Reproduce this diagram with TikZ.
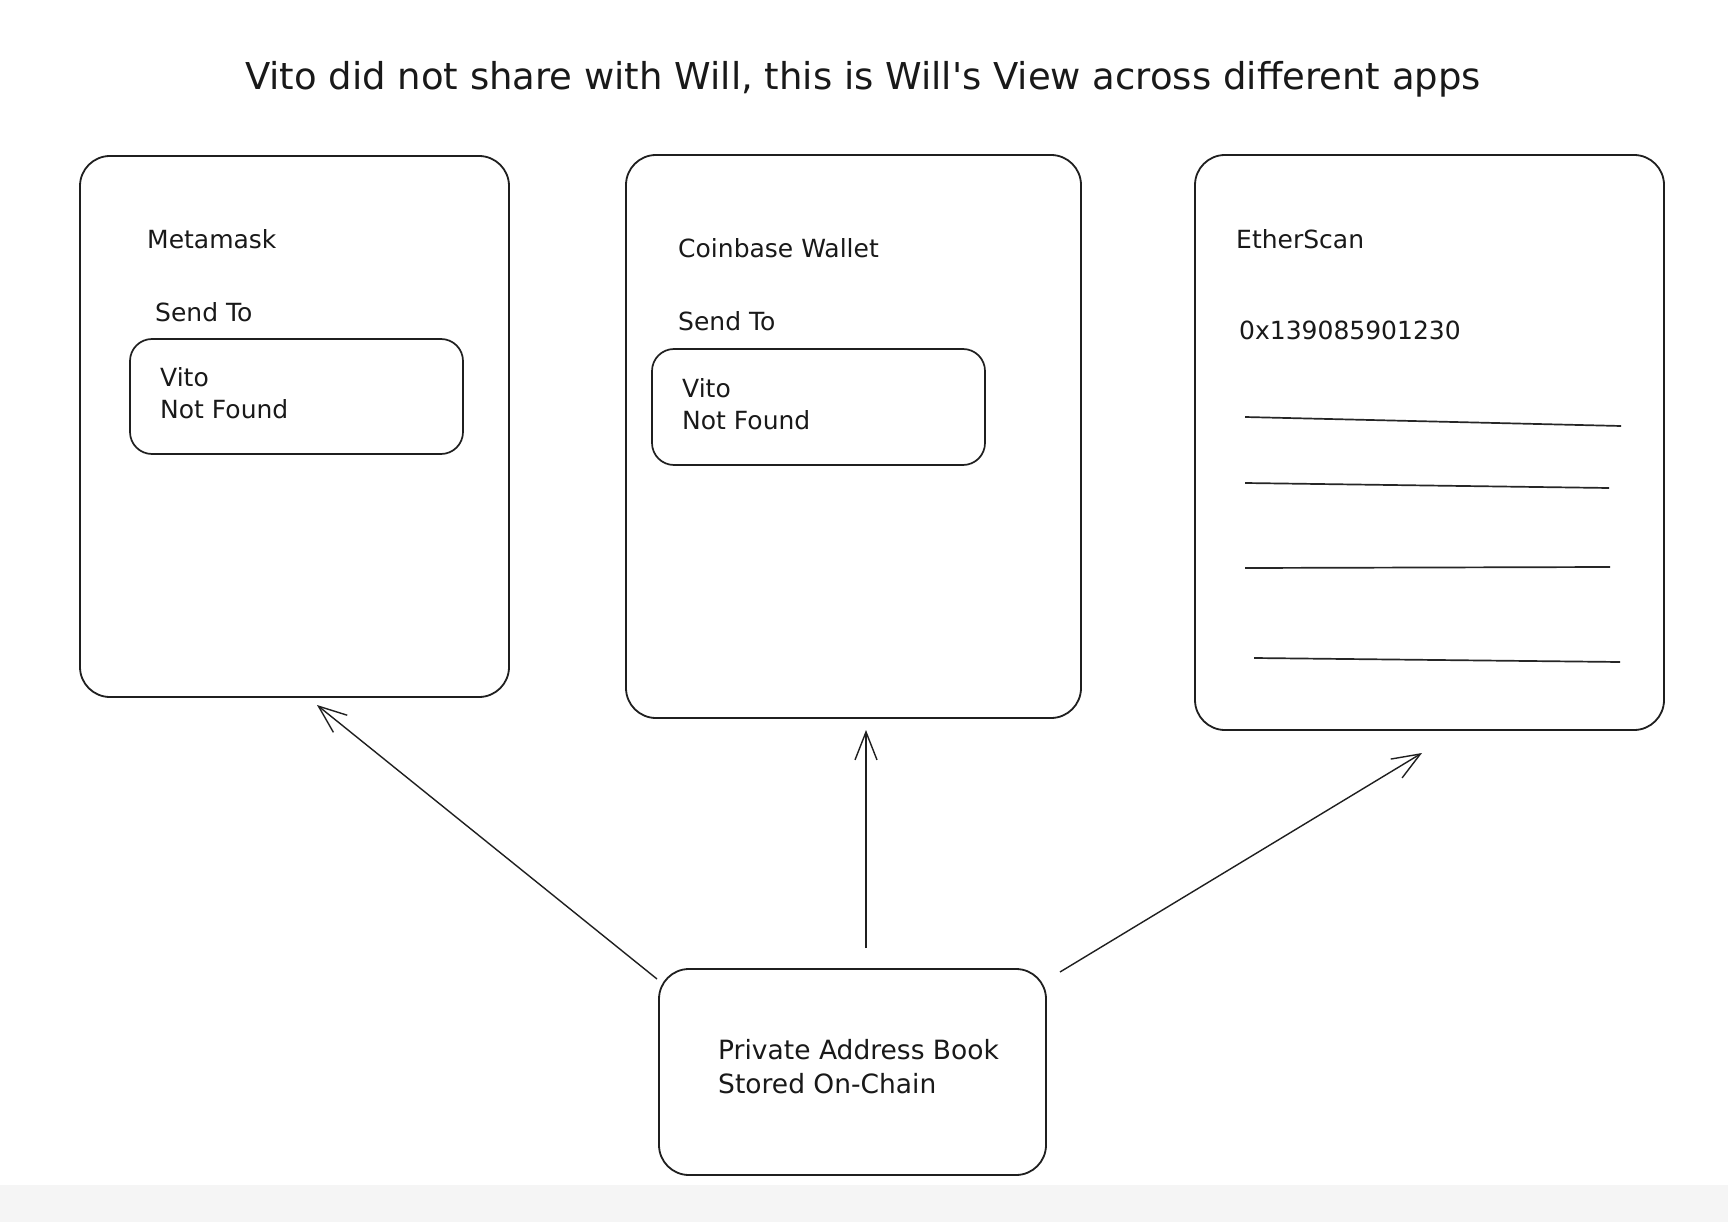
\documentclass[tikz,border=0pt]{standalone}
\usepackage{fontspec}
\newfontfamily\sk{DejaVu Sans}
\usetikzlibrary{arrows.meta}
\begin{document}
\begin{tikzpicture}[x=1pt,y=-1pt,
  frame/.style={draw=black!88, line width=1.8pt, rounded corners=30pt, inner sep=0pt},
  inner/.style={draw=black!88, line width=1.7pt, rounded corners=22pt, inner sep=0pt},
  lbl/.style={anchor=west, inner sep=0pt, text=black!90, font=\sk\fontsize{25}{32}\selectfont, align=left},
  rule/.style={draw=black!85, line width=1.7pt},
  arr/.style={draw=black!88, line width=1.4pt, -{Straight Barb[length=28pt,width=22pt,line width=1.4pt]}}]
\fill[white] (0,0) rectangle (1728,1222);
\fill[black!4] (0,1185) rectangle (1728,1222);
\useasboundingbox (0,0) rectangle (1728,1222);

\node[inner sep=0pt, text=black!90, font=\sk\fontsize{37}{42}\selectfont] (title) at (863,79) {Vito did not share with Will, this is Will's View across different apps};

% Metamask
\node[frame, minimum width=429pt, minimum height=541pt] (mm) at (294.5,426.5) {};
\node[lbl] (mmt) at (147,239) {Metamask};
\node[lbl] (mms) at (155,312) {Send To};
\node[inner, minimum width=333pt, minimum height=115pt] (mmb) at (296.5,396.5) {};
\node[lbl] (mmv) at (160,393) {Vito\\Not Found};

% Coinbase
\node[frame, minimum width=455pt, minimum height=563pt] (cb) at (853.5,436.5) {};
\node[lbl] (cbt) at (678,248) {Coinbase Wallet};
\node[lbl] (cbs) at (678,321) {Send To};
\node[inner, minimum width=333pt, minimum height=116pt] (cbb) at (818.5,407) {};
\node[lbl] (cbv) at (682,404) {Vito\\Not Found};

% EtherScan
\node[frame, minimum width=469pt, minimum height=575pt] (es) at (1429.5,442.5) {};
\node[lbl] (est) at (1236,239) {EtherScan};
\node[lbl] (esa) at (1239,330) {0x139085901230};
\draw[rule] (1245,417) -- (1621,426);
\draw[rule] (1245,483) -- (1609,488);
\draw[rule] (1245,568) -- (1610,567);
\draw[rule] (1254,658) -- (1620,662);

% Private address book
\node[frame, minimum width=387pt, minimum height=206pt] (pab) at (852.5,1072) {};
\node[lbl, font=\sk\fontsize{26.5}{34}\selectfont] (pabt) at (718,1067) {Private Address Book\\Stored On-Chain};

\coordinate (s1) at (657,979);
\coordinate (e1) at (317,705);
\coordinate (s2) at (866,948);
\coordinate (e2) at (866,730);
\coordinate (s3) at (1060,972);
\coordinate (e3) at (1422,753);
\draw[arr] (s1) -- (e1);
\draw[arr] (s2) -- (e2);
\draw[arr] (s3) -- (e3);
\end{tikzpicture}
\end{document}
